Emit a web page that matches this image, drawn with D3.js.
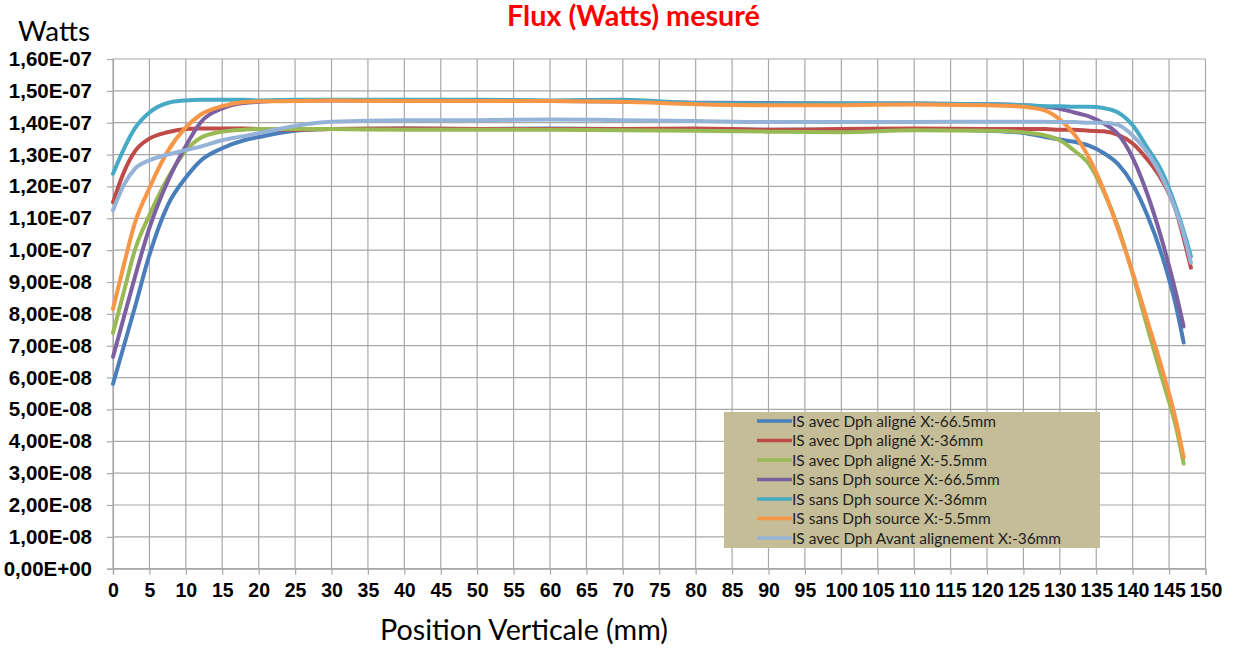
<!DOCTYPE html>
<html><head><meta charset="utf-8">
<script src="https://cdn.jsdelivr.net/npm/d3@7"></script>
<style>html,body{margin:0;padding:0;background:#fff;}svg{display:block;}</style>
</head><body>
<svg id="chart" width="1234" height="648"></svg>
<script>
// ---- DATA (values in units of 1E-08 W) ----
const positions = [0,1.5,3,5,7.5,10,12,15,18,20,25,30,40,50,60,70,80,90,100,110,120,125,128,130,132,134,136,138,140,142,144,146,147,148];
const alignedM665 = [5.8,7.0,8.2,9.85,11.4,12.28,12.8,13.2,13.45,13.55,13.75,13.8,13.82,13.8,13.82,13.8,13.8,13.78,13.78,13.8,13.75,13.68,13.55,13.47,13.4,13.28,13.05,12.7,12.07,11.1,9.85,8.2,7.1,null];
const alignedM36  = [11.5,12.45,13.1,13.5,13.7,13.8,13.82,13.82,13.82,13.8,13.78,13.8,13.82,13.8,13.8,13.8,13.82,13.78,13.8,13.82,13.8,13.8,13.8,13.78,13.78,13.75,13.73,13.62,13.35,12.85,12.2,11.2,10.37,9.45];
const alignedM55  = [7.4,8.7,10.0,11.1,12.25,13.12,13.52,13.72,13.78,13.8,13.8,13.8,13.78,13.78,13.78,13.76,13.75,13.72,13.7,13.76,13.75,13.7,13.6,13.45,13.12,12.7,11.85,10.73,9.25,7.6,6.0,4.4,3.3,null];
const sourceM665  = [6.65,7.9,9.15,10.7,12.15,13.27,14.0,14.45,14.62,14.66,14.7,14.7,14.7,14.7,14.68,14.66,14.63,14.62,14.6,14.6,14.58,14.55,14.5,14.44,14.32,14.2,13.98,13.64,12.9,11.77,10.33,8.6,7.6,null];
const sourceM36   = [12.4,13.18,13.82,14.32,14.62,14.7,14.72,14.72,14.72,14.7,14.72,14.72,14.72,14.72,14.7,14.72,14.62,14.6,14.6,14.6,14.58,14.55,14.52,14.52,14.5,14.5,14.46,14.32,13.92,13.22,12.47,11.3,10.6,9.8];
const sourceM55   = [8.15,9.55,10.85,11.95,13.1,13.85,14.25,14.52,14.65,14.67,14.68,14.7,14.68,14.68,14.68,14.66,14.58,14.55,14.55,14.57,14.55,14.5,14.38,14.1,13.63,12.9,11.9,10.65,9.3,7.8,6.3,4.6,3.5,null];
const beforeM36   = [11.25,12.05,12.55,12.82,13.0,13.14,13.25,13.45,13.58,13.67,13.9,14.03,14.08,14.08,14.1,14.08,14.05,14.02,14.02,14.02,14.03,14.03,14.03,14.02,14.02,14.0,14.0,13.93,13.6,13.07,12.3,11.2,10.5,9.6];

const seriesNames = [
  "IS avec Dph aligné X:-66.5mm",
  "IS avec Dph aligné X:-36mm",
  "IS avec Dph aligné X:-5.5mm",
  "IS sans Dph source X:-66.5mm",
  "IS sans Dph source X:-36mm",
  "IS sans Dph source X:-5.5mm",
  "IS avec Dph Avant alignement X:-36mm"
];
const seriesValues = [alignedM665, alignedM36, alignedM55, sourceM665, sourceM36, sourceM55, beforeM36];
const seriesColors = ["#4a7ebb","#be4b48","#98b954","#7d60a0","#46aac5","#f79646","#95b3d7"];

const xTicks = d3.range(0, 151, 5);
const yTicks = d3.range(0, 17, 1);
const yTickLabels = ["0,00E+00","1,00E-08","2,00E-08","3,00E-08","4,00E-08","5,00E-08","6,00E-08","7,00E-08","8,00E-08","9,00E-08","1,00E-07","1,10E-07","1,20E-07","1,30E-07","1,40E-07","1,50E-07","1,60E-07"];

const titleText = "Flux (Watts) mesuré";
const yUnitText = "Watts";
const xTitleText = "Position Verticale (mm)";

// ---- LAYOUT ----
const svg = d3.select("#chart");
const L = 113, R = 1205.5, T = 59, B = 568.7;
const x = d3.scaleLinear().domain([0,150]).range([L,R]);
const y = d3.scaleLinear().domain([0,16]).range([B,T]);
const gridColor = "#a8a8a8";

function fit(sel, target){
  const n = sel.node();
  const fs = parseFloat(sel.attr("font-size"));
  const w = n.getComputedTextLength();
  if (w > 0) sel.attr("font-size", fs * target / w);
  return sel;
}

// grid
const g = svg.append("g");
g.selectAll("line.v").data(xTicks).join("line")
  .attr("x1", d=>x(d)).attr("x2", d=>x(d)).attr("y1", y(16)).attr("y2", y(0))
  .attr("stroke", gridColor).attr("stroke-width", 1.2);
g.selectAll("line.h").data(yTicks).join("line")
  .attr("x1", x(0)).attr("x2", x(150)).attr("y1", d=>y(d)).attr("y2", d=>y(d))
  .attr("stroke", gridColor).attr("stroke-width", 1.2);

// axes
const xAxis = d3.axisBottom(x).tickValues(xTicks).tickSize(6).tickPadding(8).tickFormat(d3.format("d"));
const gx = svg.append("g").attr("transform", `translate(0,${B})`).call(xAxis);
gx.select(".domain").attr("stroke", gridColor).attr("stroke-width", 1.2);
gx.selectAll(".tick line").attr("stroke", gridColor).attr("stroke-width", 1.2);
gx.selectAll(".tick text").attr("font-family", "'Liberation Sans', Arial, sans-serif")
  .attr("font-weight", "bold").attr("font-size", 19.5).attr("fill", "#000").attr("dy", "0.72em");

const yAxis = d3.axisLeft(y).tickValues(yTicks).tickSize(6).tickPadding(15).tickFormat((d,i)=>yTickLabels[i]);
const gy = svg.append("g").attr("transform", `translate(${L},0)`).call(yAxis);
gy.select(".domain").attr("stroke", gridColor).attr("stroke-width", 1.2);
gy.selectAll(".tick line").attr("stroke", gridColor).attr("stroke-width", 1.2);
gy.selectAll(".tick text").attr("font-family", "'Liberation Sans', Arial, sans-serif")
  .attr("font-weight", "bold").attr("font-size", 20.5).attr("fill", "#000");

// series
const line = d3.line()
  .defined(d => d[1] !== null)
  .x(d => x(d[0])).y(d => y(d[1]))
  .curve(d3.curveMonotoneX);
seriesValues.forEach((vals, i) => {
  svg.append("path")
    .datum(positions.map((p, j) => [p, vals[j]]))
    .attr("d", line).attr("fill", "none")
    .attr("stroke", seriesColors[i]).attr("stroke-width", 4)
    .attr("stroke-linejoin", "round").attr("stroke-linecap", "round");
});

// legend
const lg = svg.append("g");
lg.append("rect").attr("x", 724).attr("y", 412).attr("width", 376).attr("height", 136).attr("fill", "#c4bd97");
const rowY = i => 421 + i * 19.5;
seriesNames.forEach((name, i) => {
  lg.append("line").attr("x1", 757).attr("x2", 792).attr("y1", rowY(i)).attr("y2", rowY(i))
    .attr("stroke", seriesColors[i]).attr("stroke-width", 3.6);
});
const legTexts = lg.selectAll("text").data(seriesNames).join("text")
  .attr("x", 792).attr("y", (d,i)=>rowY(i)).attr("dy", "0.36em")
  .attr("font-family", "Lato, 'Open Sans', sans-serif").attr("font-size", 15).attr("fill", "#1e1e1e")
  .text(d=>d);
{
  const first = legTexts.nodes()[0];
  const w = first.getComputedTextLength();
  legTexts.attr("font-size", 15 * 204 / w);
}

// titles
const title = svg.append("text").attr("x", 633.5).attr("y", 26).attr("text-anchor", "middle")
  .attr("font-family", "Lato, 'Open Sans', sans-serif").attr("font-weight", "bold")
  .attr("font-size", 24).attr("fill", "#ff0000").text(titleText);
fit(title, 253);

const wu = svg.append("text").attr("x", 18).attr("y", 41)
  .attr("font-family", "Lato, 'Open Sans', sans-serif").attr("font-size", 26).attr("fill", "#000").text(yUnitText);
fit(wu, 72);

const xt = svg.append("text").attr("x", 524).attr("y", 640).attr("text-anchor", "middle")
  .attr("font-family", "Lato, 'Open Sans', sans-serif").attr("font-size", 26).attr("fill", "#000").text(xTitleText);
fit(xt, 288);
</script>
</body></html>
